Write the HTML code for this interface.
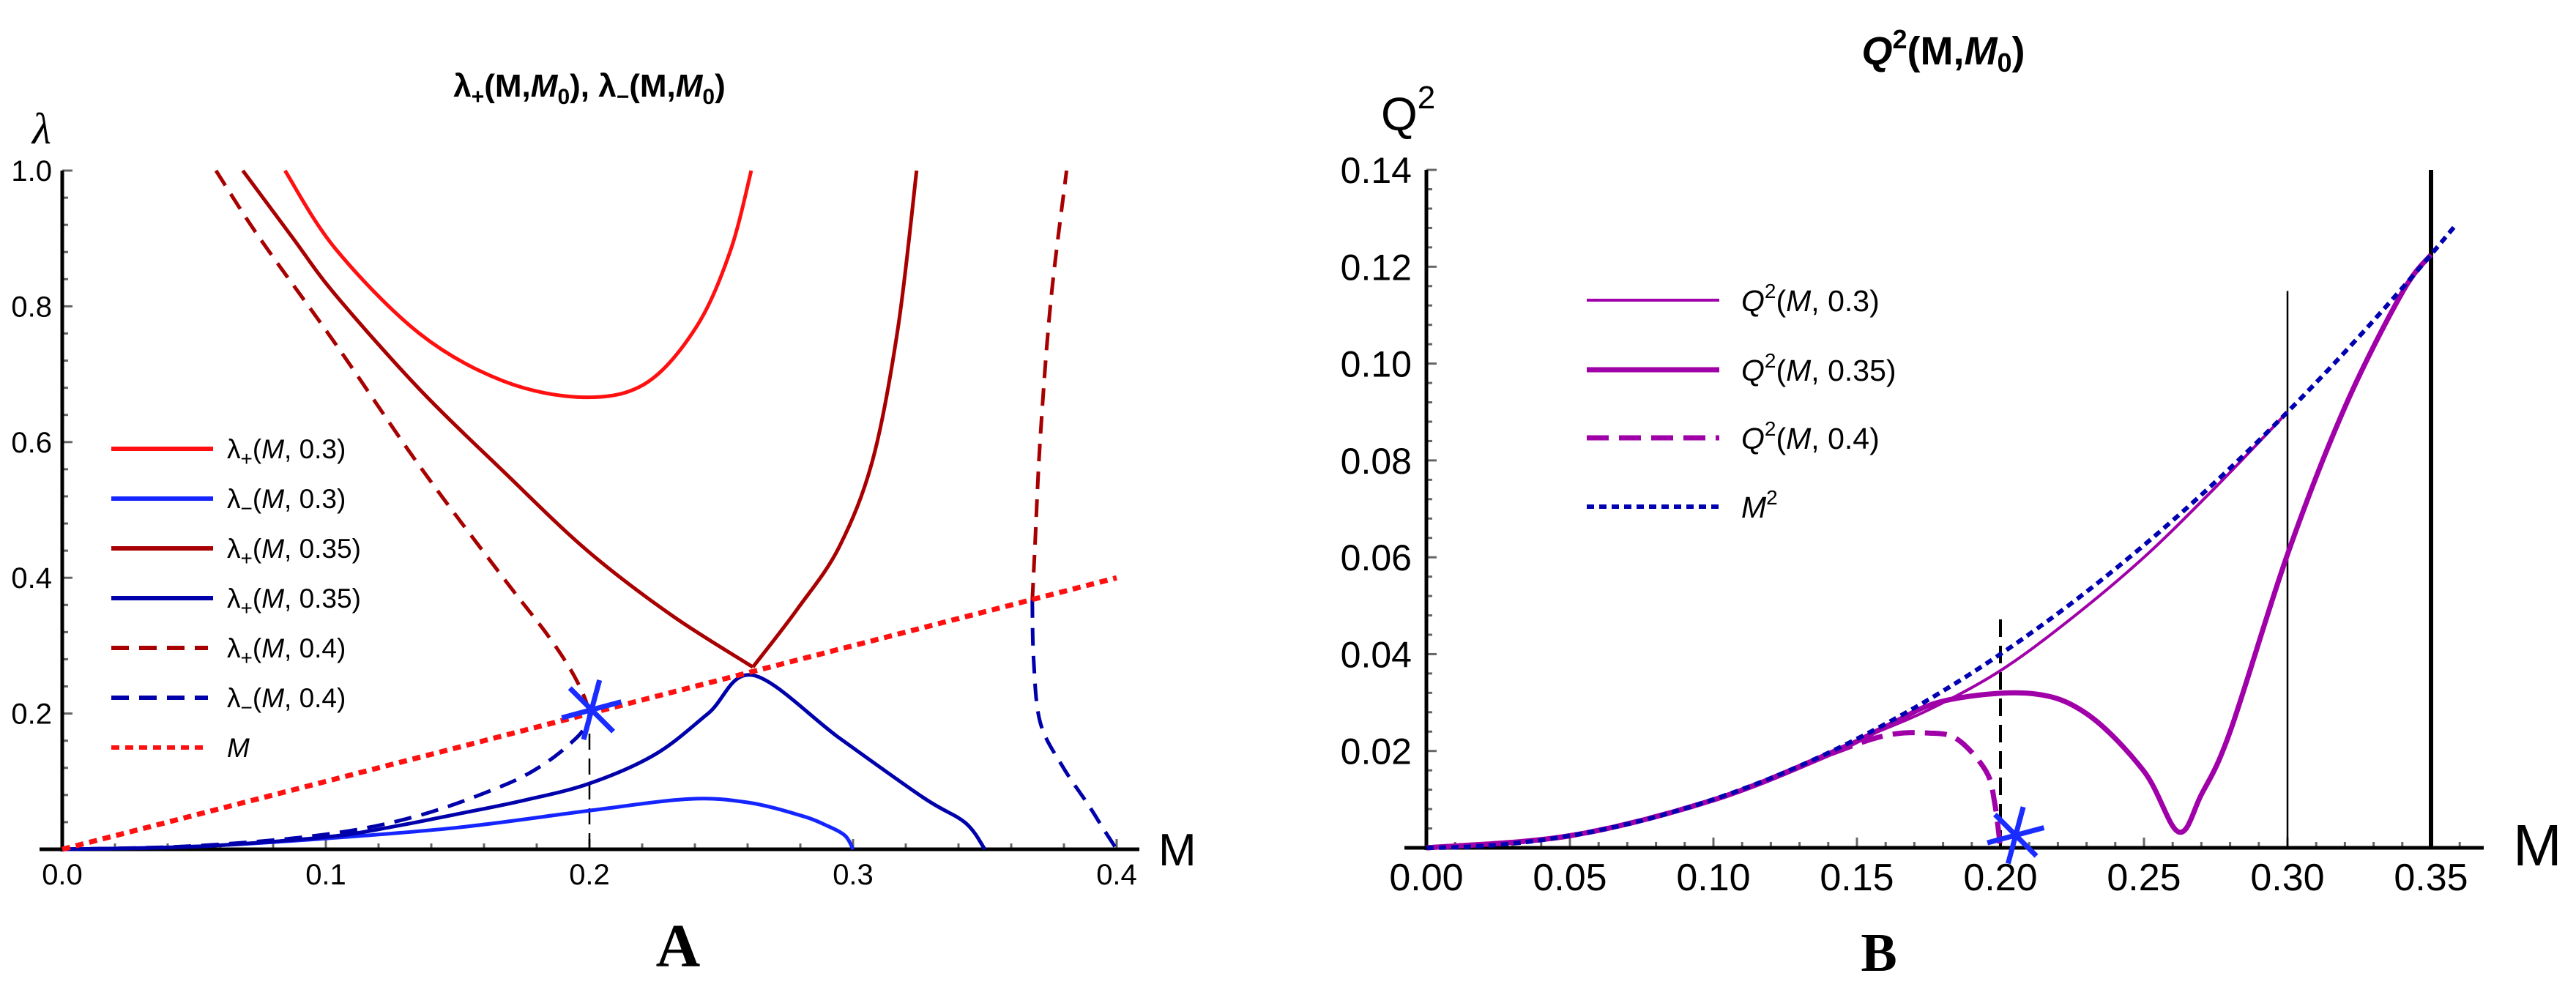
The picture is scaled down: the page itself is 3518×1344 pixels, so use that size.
<!DOCTYPE html>
<html><head><meta charset="utf-8">
<style>
html,body{margin:0;padding:0;background:#fff;}
svg{display:block;font-family:"Liberation Sans",sans-serif;}
</style></head>
<body>
<svg id="fig" width="3518" height="1344" viewBox="0 0 3518 1344" xmlns="http://www.w3.org/2000/svg">
<rect width="3518" height="1344" fill="#fff"/>
<g id="panelA"></g>
<g id="panelB"></g>
</svg>
<script>
// ---------- Panel A data ----------
const aXTicks = [0.0, 0.1, 0.2, 0.3, 0.4];
const aXTickLabels = ["0.0", "0.1", "0.2", "0.3", "0.4"];
const aYTicks = [0.2, 0.4, 0.6, 0.8, 1.0];
const aYTickLabels = ["0.2", "0.4", "0.6", "0.8", "1.0"];

const lpM03_m = [0.0845, 0.1036, 0.1355, 0.1673, 0.198, 0.2215, 0.2406, 0.2534, 0.2614];
const lpM03_l = [1.0, 0.885, 0.76, 0.69, 0.666, 0.687, 0.77, 0.881, 1.0];

const lpM035_m = [0.0685, 0.0876, 0.1036, 0.1355, 0.1673, 0.1992, 0.2311, 0.262];
const lpM035_l = [1.0, 0.90, 0.817, 0.678, 0.557, 0.44, 0.345, 0.2685];
const lpM035r_m = [0.262, 0.2789, 0.2948, 0.3076, 0.3171, 0.3241];
const lpM035r_l = [0.2685, 0.354, 0.446, 0.576, 0.77, 1.0];

const lpM04_m = [0.0583, 0.075, 0.1036, 0.1355, 0.1673, 0.1833, 0.1928, 0.198, 0.2];
const lpM04_l = [1.0, 0.9, 0.745, 0.565, 0.40, 0.32, 0.265, 0.225, 0.2];
const lpM04r_m = [0.368, 0.369, 0.371, 0.375, 0.381];
const lpM04r_l = [0.367, 0.446, 0.604, 0.807, 1.0];

const lmM03_m = [0, 0.05, 0.1, 0.15, 0.2, 0.2375, 0.26, 0.28, 0.29, 0.297, 0.3];
const lmM03_l = [0, 0.004, 0.016, 0.032, 0.057, 0.074, 0.069, 0.05, 0.035, 0.02, 0];

const lmM035_m = [0, 0.05, 0.1, 0.125, 0.15, 0.175, 0.2, 0.225, 0.245, 0.262, 0.2948, 0.3267, 0.3426, 0.35];
const lmM035_l = [0, 0.004, 0.018, 0.033, 0.052, 0.072, 0.097, 0.14, 0.2, 0.2565, 0.164, 0.076, 0.039, 0];

const lmM04_m = [0, 0.05, 0.1, 0.1355, 0.1673, 0.1833, 0.195, 0.199, 0.2];
const lmM04_l = [0, 0.005, 0.022, 0.05, 0.094, 0.127, 0.164, 0.185, 0.2];
const lmM04r_m = [0.368, 0.3685, 0.371, 0.3795, 0.389, 0.395, 0.4];
const lmM04r_l = [0.367, 0.28, 0.187, 0.122, 0.067, 0.03, 0];

const lineM_m = [0, 0.4];

// ---------- Panel B data ----------
const bXTicks = [0, 0.05, 0.10, 0.15, 0.20, 0.25, 0.30, 0.35];
const bXTickLabels = ["0.00","0.05","0.10","0.15","0.20","0.25","0.30","0.35"];
const bYTicks = [0.02, 0.04, 0.06, 0.08, 0.10, 0.12, 0.14];
const bYTickLabels = ["0.02","0.04","0.06","0.08","0.10","0.12","0.14"];

const q03_m = [0, 0.05, 0.1, 0.15, 0.175, 0.2, 0.225, 0.25, 0.275, 0.3];
const q03_q = [0, 0.0025, 0.01, 0.0222, 0.0285, 0.0366, 0.0475, 0.0600, 0.0745, 0.0900];

const q035_m = [0, 0.05, 0.1, 0.14, 0.16, 0.18, 0.21, 0.23, 0.25, 0.262, 0.27, 0.28, 0.3, 0.32, 0.34, 0.35];
const q035_q = [0, 0.0025, 0.0099, 0.0192, 0.025, 0.0303, 0.0319, 0.0277, 0.0158, 0.0033, 0.011, 0.024, 0.0606, 0.091, 0.1147, 0.1225];

const q04_m = [0, 0.05, 0.1, 0.14, 0.16, 0.175, 0.185, 0.195, 0.198, 0.2];
const q04_q = [0, 0.0025, 0.0099, 0.0192, 0.0232, 0.0237, 0.0224, 0.0158, 0.0092, 0];

const msq_max = 0.359;

// ---------- helpers ----------
const NS = "http://www.w3.org/2000/svg";
function mk(tag, attrs, parent, text) {
  const e = document.createElementNS(NS, tag);
  for (const k in attrs) e.setAttribute(k, attrs[k]);
  if (text !== undefined) e.textContent = text;
  parent.appendChild(e);
  return e;
}
function smoothPath(pts) {
  if (pts.length < 3) return "M" + pts.map(p => p[0].toFixed(1) + "," + p[1].toFixed(1)).join(" L");
  let d = "M" + pts[0][0].toFixed(1) + "," + pts[0][1].toFixed(1);
  for (let i = 0; i < pts.length - 1; i++) {
    const p0 = pts[i - 1] || pts[i], p1 = pts[i], p2 = pts[i + 1], p3 = pts[i + 2] || p2;
    const c1 = [p1[0] + (p2[0] - p0[0]) / 6, p1[1] + (p2[1] - p0[1]) / 6];
    const c2 = [p2[0] - (p3[0] - p1[0]) / 6, p2[1] - (p3[1] - p1[1]) / 6];
    d += " C" + c1[0].toFixed(1) + "," + c1[1].toFixed(1) + " " + c2[0].toFixed(1) + "," + c2[1].toFixed(1) + " " + p2[0].toFixed(1) + "," + p2[1].toFixed(1);
  }
  return d;
}
function curve(parent, xs, ys, sx, sy, style, name) {
  const pts = xs.map((x, i) => [sx(x), sy(ys[i])]);
  const p = mk("path", Object.assign({ d: smoothPath(pts), fill: "none", "stroke-linejoin": "round" }, style), parent);
  
  
  return p;
}
function star(parent, cx, cy, r, name) {
  const g = mk("g", {}, parent);
  
  
  [75, 15, -45].forEach(a => {
    const t = a * Math.PI / 180;
    mk("line", { x1: cx - r * Math.cos(t), y1: cy + r * Math.sin(t), x2: cx + r * Math.cos(t), y2: cy - r * Math.sin(t), stroke: "#1a2cff", "stroke-width": 7 }, g);
  });
}

// ---------- Panel A ----------
(function () {
  const g = document.getElementById("panelA");
  const X0 = 85, XS = 3600, Y0 = 1160, YS = 927;
  const sx = m => X0 + XS * m, sy = l => Y0 - YS * l;

  const t = mk("text", { x: 805, y: 132, "text-anchor": "middle", "font-size": 44, "font-weight": "bold" }, g);
  
  
  t.innerHTML = 'λ<tspan font-size="30" dy="10">+</tspan><tspan dy="-10">(M,</tspan><tspan font-style="italic">M</tspan><tspan font-size="30" dy="10">0</tspan><tspan dy="-10">), λ</tspan><tspan font-size="30" dy="10">−</tspan><tspan dy="-10">(M,</tspan><tspan font-style="italic">M</tspan><tspan font-size="30" dy="10">0</tspan><tspan dy="-10">)</tspan>';

  const yl = mk("text", { x: 44, y: 196, "font-size": 60, "font-family": "Liberation Serif, serif", "font-style": "italic" }, g, "λ");
  
  
  const xl = mk("text", { x: 1582, y: 1182, "font-size": 62 }, g, "M");
  
  
  const pl = mk("text", { x: 926, y: 1320, "text-anchor": "middle", "font-size": 84, "font-weight": "bold", "font-family": "Liberation Serif, serif" }, g, "A");
  
  

  for (let i = 1; i <= 20; i++) {
    const x = sx(i * 0.02);
    mk("line", { x1: x, y1: Y0, x2: x, y2: Y0 - (i % 5 === 0 ? 14 : 8), stroke: "#666", "stroke-width": 3 }, g);
  }
  for (let i = 1; i <= 25; i++) {
    const y = sy(i * 0.04);
    mk("line", { x1: X0, y1: y, x2: X0 + (i % 5 === 0 ? 14 : 8), y2: y, stroke: "#666", "stroke-width": 3 }, g);
  }
  aXTicks.forEach((v, i) => {
    const tx = mk("text", { x: sx(v), y: 1208, "text-anchor": "middle", "font-size": 40 }, g, aXTickLabels[i]);
    
    
  });
  aYTicks.forEach((v, i) => {
    const ty = mk("text", { x: 71, y: sy(v) + 14, "text-anchor": "end", "font-size": 40 }, g, aYTickLabels[i]);
    
    
  });
  const xa = mk("line", { x1: 54, y1: Y0, x2: 1556, y2: Y0, stroke: "#000", "stroke-width": 5 }, g);
  
  
  const ya = mk("line", { x1: X0, y1: sy(1.0), x2: X0, y2: Y0 + 3, stroke: "#000", "stroke-width": 5 }, g);
  
  

  const vd = mk("line", { x1: sx(0.2), y1: Y0, x2: sx(0.2), y2: sy(0.19), stroke: "#000", "stroke-width": 2.5, "stroke-dasharray": "22 12" }, g);
  
  

  const red = "#ff1010", dred = "#a80000", blue = "#1525ff", dblue = "#0000aa";
  curve(g, lmM03_m, lmM03_l, sx, sy, { stroke: blue, "stroke-width": 5 }, "series-lambda-minus-0.3");
  curve(g, lmM035_m, lmM035_l, sx, sy, { stroke: dblue, "stroke-width": 5 }, "series-lambda-minus-0.35");
  curve(g, lmM04_m, lmM04_l, sx, sy, { stroke: dblue, "stroke-width": 5, "stroke-dasharray": "24 14" }, "series-lambda-minus-0.4");
  curve(g, lmM04r_m, lmM04r_l, sx, sy, { stroke: dblue, "stroke-width": 5, "stroke-dasharray": "24 14" }, "series-lambda-minus-0.4-right");
  curve(g, lpM03_m, lpM03_l, sx, sy, { stroke: red, "stroke-width": 5 }, "series-lambda-plus-0.3");
  curve(g, lpM035_m, lpM035_l, sx, sy, { stroke: dred, "stroke-width": 5 }, "series-lambda-plus-0.35");
  curve(g, lpM035r_m, lpM035r_l, sx, sy, { stroke: dred, "stroke-width": 5 }, "series-lambda-plus-0.35-right");
  curve(g, lpM04_m, lpM04_l, sx, sy, { stroke: dred, "stroke-width": 5, "stroke-dasharray": "24 14" }, "series-lambda-plus-0.4");
  curve(g, lpM04r_m, lpM04r_l, sx, sy, { stroke: dred, "stroke-width": 5, "stroke-dasharray": "24 14" }, "series-lambda-plus-0.4-right");
  curve(g, lineM_m, lineM_m, sx, sy, { stroke: red, "stroke-width": 7, "stroke-dasharray": "11 8" }, "series-m-line");
  star(g, sx(0.2008), sy(0.2055), 42, "intersection-star-a");

  const leg = mk("g", {}, g);
  
  
  const entries = [
    [red, "", "λ", "+", "0.3"], [blue, "", "λ", "−", "0.3"], [dred, "", "λ", "+", "0.35"],
    [dblue, "", "λ", "+", "0.35"], [dred, "24 14", "λ", "+", "0.4"], [dblue, "24 14", "λ", "−", "0.4"], [red, "11 8", "M", "", ""]
  ];
  entries.forEach((e, i) => {
    const y = 613 + 68 * i;
    const eg = mk("g", {}, leg);
    
    
    mk("line", { x1: 152, y1: y, x2: e[1] ? 284 : 291, y2: y, stroke: e[0], "stroke-width": 6, "stroke-dasharray": e[1] }, eg);
    const tx = mk("text", { x: 310, y: y + 13, "font-size": 37 }, eg);
    if (e[2] === "M") tx.innerHTML = '<tspan font-style="italic">M</tspan>';
    else tx.innerHTML = 'λ<tspan font-size="28" dy="10">' + e[3] + '</tspan><tspan dy="-10">(</tspan><tspan font-style="italic">M</tspan>, ' + e[4] + ')';
  });
})();

// ---------- Panel B ----------
(function () {
  const g = document.getElementById("panelB");
  const X0 = 1948, XS = 3920, Y0 = 1158, YS = 6614;
  const sx = m => X0 + XS * m, sy = q => Y0 - YS * q;

  const t = mk("text", { x: 2654, y: 88, "text-anchor": "middle", "font-size": 54, "font-weight": "bold" }, g);
  
  
  t.innerHTML = '<tspan font-style="italic">Q</tspan><tspan font-size="36" dy="-22">2</tspan><tspan dy="22">(M,</tspan><tspan font-style="italic">M</tspan><tspan font-size="36" dy="10">0</tspan><tspan dy="-10">)</tspan>';

  const yl = mk("text", { x: 1886, y: 178, "font-size": 64 }, g);
  
  
  yl.innerHTML = 'Q<tspan font-size="44" dy="-30">2</tspan>';
  const xl = mk("text", { x: 3432, y: 1182, "font-size": 80 }, g, "M");
  
  
  const pl = mk("text", { x: 2566, y: 1326, "text-anchor": "middle", "font-size": 74, "font-weight": "bold", "font-family": "Liberation Serif, serif" }, g, "B");
  
  

  for (let i = 1; i <= 36; i++) {
    const x = sx(i * 0.01);
    mk("line", { x1: x, y1: Y0, x2: x, y2: Y0 - (i % 5 === 0 ? 14 : 8), stroke: "#666", "stroke-width": 3 }, g);
  }
  for (let i = 1; i <= 35; i++) {
    const y = sy(i * 0.004);
    mk("line", { x1: X0, y1: y, x2: X0 + (i % 5 === 0 ? 14 : 8), y2: y, stroke: "#666", "stroke-width": 3 }, g);
  }
  bXTicks.forEach((v, i) => {
    const tx = mk("text", { x: sx(v), y: 1216, "text-anchor": "middle", "font-size": 52 }, g, bXTickLabels[i]);
    
    
  });
  bYTicks.forEach((v, i) => {
    const ty = mk("text", { x: 1928, y: sy(v) + 18, "text-anchor": "end", "font-size": 50 }, g, bYTickLabels[i]);
    
    
  });
  const xa = mk("line", { x1: 1918, y1: Y0, x2: 3392, y2: Y0, stroke: "#000", "stroke-width": 5 }, g);
  
  
  const ya = mk("line", { x1: X0, y1: sy(0.14), x2: X0, y2: Y0 + 3, stroke: "#000", "stroke-width": 5 }, g);
  
  

  const v1 = mk("line", { x1: sx(0.3), y1: Y0, x2: sx(0.3), y2: sy(0.115), stroke: "#000", "stroke-width": 2.5 }, g);
  
  
  const v2 = mk("line", { x1: sx(0.35), y1: Y0, x2: sx(0.35), y2: sy(0.14), stroke: "#000", "stroke-width": 6 }, g);
  
  
  const v3 = mk("line", { x1: sx(0.2), y1: Y0, x2: sx(0.2), y2: sy(0.0475), stroke: "#000", "stroke-width": 4, "stroke-dasharray": "24 12" }, g);
  
  

  const pur = "#a000a8", nav = "#0000b0";
  curve(g, q03_m, q03_q, sx, sy, { stroke: pur, "stroke-width": 4 }, "series-q2-0.3");
  curve(g, q035_m, q035_q, sx, sy, { stroke: pur, "stroke-width": 7 }, "series-q2-0.35");
  curve(g, q04_m, q04_q, sx, sy, { stroke: pur, "stroke-width": 7, "stroke-dasharray": "30 14" }, "series-q2-0.4");
  const msqM = [], msqQ = [];
  for (let i = 0; i <= 40; i++) { const m = msq_max * i / 40; msqM.push(m); msqQ.push(m * m); }
  curve(g, msqM, msqQ, sx, sy, { stroke: nav, "stroke-width": 6, "stroke-dasharray": "10 7" }, "series-m-squared");
  star(g, sx(0.2053), sy(0.0026), 40, "intersection-star-b");

  const leg = mk("g", {}, g);
  
  
  const entries = [[pur, 4, "", "0.3"], [pur, 7, "", "0.35"], [pur, 7, "30 14", "0.4"], [nav, 6, "10 7", ""]];
  entries.forEach((e, i) => {
    const y = [410, 505, 598, 692][i];
    const eg = mk("g", {}, leg);
    
    
    mk("line", { x1: 2167, y1: y, x2: 2348, y2: y, stroke: e[0], "stroke-width": e[1], "stroke-dasharray": e[2] }, eg);
    const tx = mk("text", { x: 2378, y: y + 15, "font-size": 41 }, eg);
    if (e[3]) tx.innerHTML = '<tspan font-style="italic">Q</tspan><tspan font-size="28" dy="-18">2</tspan><tspan dy="18">(</tspan><tspan font-style="italic">M</tspan>, ' + e[3] + ')';
    else tx.innerHTML = '<tspan font-style="italic">M</tspan><tspan font-size="28" dy="-18">2</tspan>';
  });
})();
</script>
</body></html>
